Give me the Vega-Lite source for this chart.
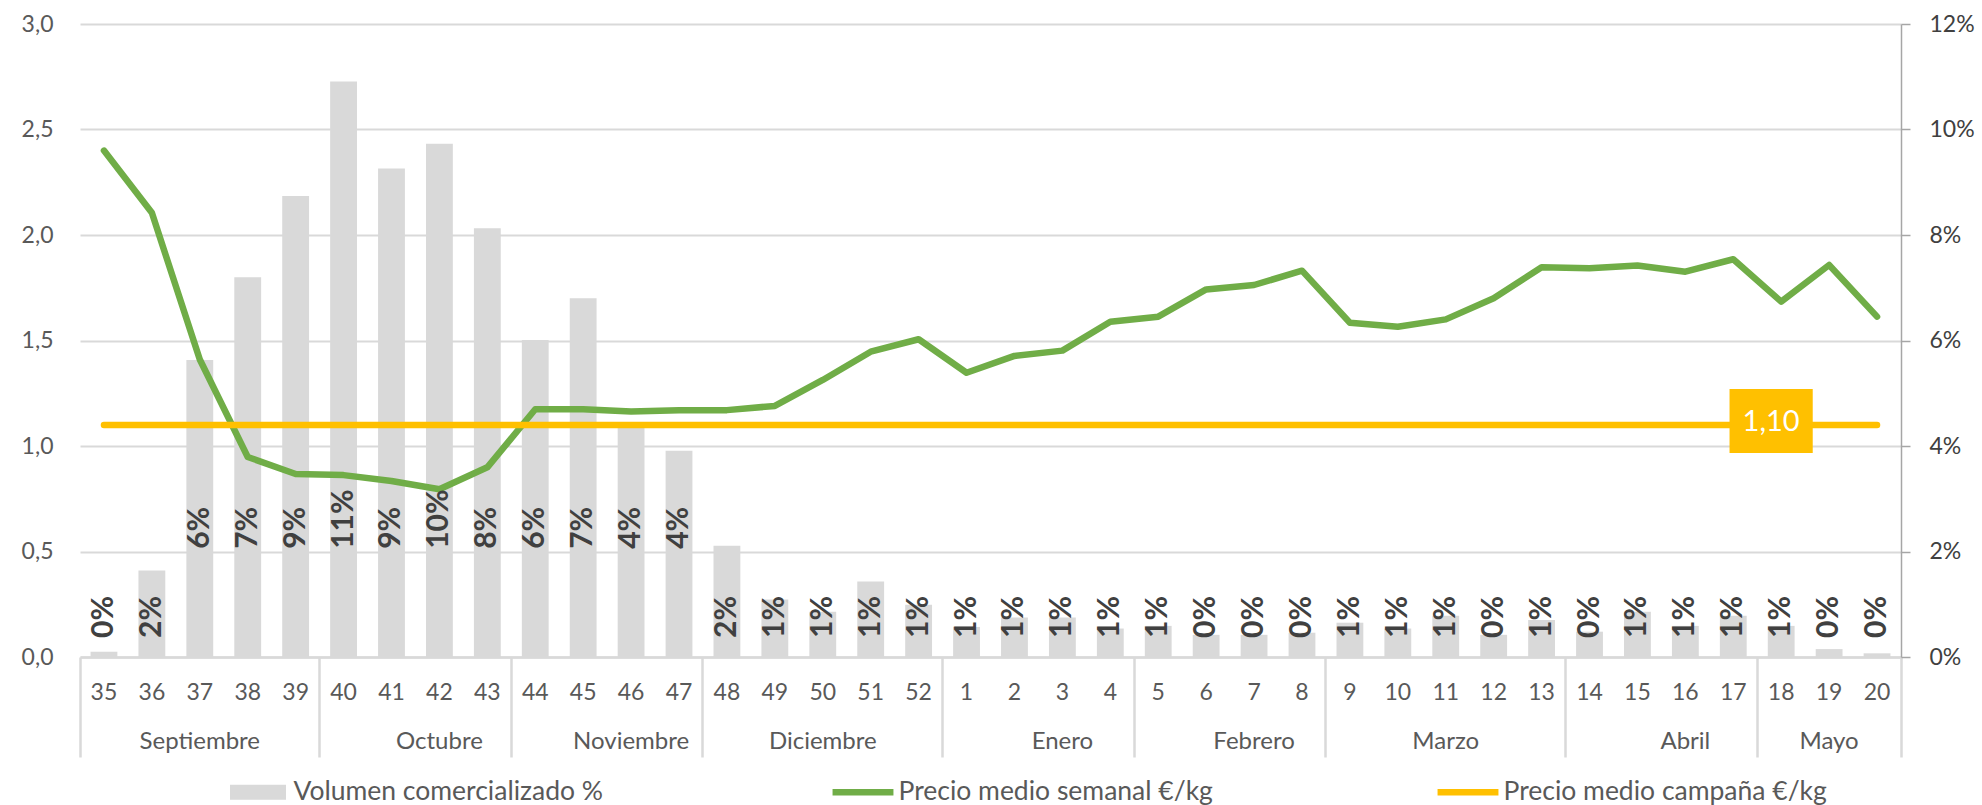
{
  "$schema": "https://vega.github.io/schema/vega-lite/v6.json",
  "width": 1821,
  "height": 633,
  "autosize": {"type": "none"},
  "padding": {"left": 80, "top": 24, "right": 81, "bottom": 148},
  "background": "white",
  "config": {
    "font": "Lato",
    "view": {"stroke": null},
    "locale": {"number": {"decimal": ",", "thousands": ".", "grouping": [3], "currency": ["", " €"]}},
    "axis": {"labelFont": "Lato", "grid": false, "domain": false, "ticks": false, "labelColor": "#595959", "labelFontSize": 23}
  },
  "data": {
    "values": [
      {"semana": 35, "vol": 0.0010, "precio": 2.400, "campana": 1.10},
      {"semana": 36, "vol": 0.0164, "precio": 2.105, "campana": 1.10},
      {"semana": 37, "vol": 0.0563, "precio": 1.410, "campana": 1.10},
      {"semana": 38, "vol": 0.0720, "precio": 0.948, "campana": 1.10},
      {"semana": 39, "vol": 0.0874, "precio": 0.867, "campana": 1.10},
      {"semana": 40, "vol": 0.1091, "precio": 0.862, "campana": 1.10},
      {"semana": 41, "vol": 0.0926, "precio": 0.834, "campana": 1.10},
      {"semana": 42, "vol": 0.0973, "precio": 0.795, "campana": 1.10},
      {"semana": 43, "vol": 0.0813, "precio": 0.899, "campana": 1.10},
      {"semana": 44, "vol": 0.0601, "precio": 1.174, "campana": 1.10},
      {"semana": 45, "vol": 0.0680, "precio": 1.174, "campana": 1.10},
      {"semana": 46, "vol": 0.0435, "precio": 1.163, "campana": 1.10},
      {"semana": 47, "vol": 0.0391, "precio": 1.170, "campana": 1.10},
      {"semana": 48, "vol": 0.0211, "precio": 1.170, "campana": 1.10},
      {"semana": 49, "vol": 0.0109, "precio": 1.190, "campana": 1.10},
      {"semana": 50, "vol": 0.0086, "precio": 1.313, "campana": 1.10},
      {"semana": 51, "vol": 0.0143, "precio": 1.447, "campana": 1.10},
      {"semana": 52, "vol": 0.0099, "precio": 1.506, "campana": 1.10},
      {"semana": 1, "vol": 0.0057, "precio": 1.347, "campana": 1.10},
      {"semana": 2, "vol": 0.0075, "precio": 1.427, "campana": 1.10},
      {"semana": 3, "vol": 0.0075, "precio": 1.452, "campana": 1.10},
      {"semana": 4, "vol": 0.0054, "precio": 1.589, "campana": 1.10},
      {"semana": 5, "vol": 0.0059, "precio": 1.613, "campana": 1.10},
      {"semana": 6, "vol": 0.0042, "precio": 1.742, "campana": 1.10},
      {"semana": 7, "vol": 0.0042, "precio": 1.763, "campana": 1.10},
      {"semana": 8, "vol": 0.0046, "precio": 1.831, "campana": 1.10},
      {"semana": 9, "vol": 0.0065, "precio": 1.584, "campana": 1.10},
      {"semana": 10, "vol": 0.0054, "precio": 1.565, "campana": 1.10},
      {"semana": 11, "vol": 0.0078, "precio": 1.600, "campana": 1.10},
      {"semana": 12, "vol": 0.0042, "precio": 1.700, "campana": 1.10},
      {"semana": 13, "vol": 0.0070, "precio": 1.847, "campana": 1.10},
      {"semana": 14, "vol": 0.0048, "precio": 1.842, "campana": 1.10},
      {"semana": 15, "vol": 0.0086, "precio": 1.855, "campana": 1.10},
      {"semana": 16, "vol": 0.0059, "precio": 1.826, "campana": 1.10},
      {"semana": 17, "vol": 0.0078, "precio": 1.885, "campana": 1.10},
      {"semana": 18, "vol": 0.0059, "precio": 1.684, "campana": 1.10},
      {"semana": 19, "vol": 0.0015, "precio": 1.858, "campana": 1.10},
      {"semana": 20, "vol": 0.0007, "precio": 1.613, "campana": 1.10}
    ]
  },
  "layer": [
    {
      "mark": {"type": "bar", "width": {"band": 0.56}},
      "encoding": {
        "x": {"field": "semana", "type": "ordinal",
          "scale": {"domain": [35,36,37,38,39,40,41,42,43,44,45,46,47,48,49,50,51,52,1,2,3,4,5,6,7,8,9,10,11,12,13,14,15,16,17,18,19,20], "paddingInner": 0, "paddingOuter": 0},
          "axis": {"orient": "bottom", "title": null, "domain": true, "domainColor": "#d9d9d9", "domainWidth": 2.5, "ticks": false, "grid": false, "labelAngle": 0, "labelPadding": 24, "labelFontSize": 23, "labelColor": "#595959", "labelOverlap": false}},
        "y": {"field": "vol", "type": "quantitative", "scale": {"domain": [0, 0.12], "nice": false},
          "axis": {"orient": "right", "title": null, "values": [0, 0.02, 0.04, 0.06, 0.08, 0.1, 0.12], "format": ".0%", "domain": true, "domainColor": "#a6a6a6", "domainWidth": 1.5, "ticks": true, "tickColor": "#a6a6a6", "tickWidth": 1.5, "tickSize": 9, "labelPadding": 19, "labelColor": "#404040", "labelFontSize": 23, "grid": false}},
        "color": {"datum": "Volumen comercializado %", "type": "nominal",
          "scale": {"domain": ["Volumen comercializado %", "Precio medio semanal €/kg", "Precio medio campaña €/kg"], "range": ["#d9d9d9", "#70ad47", "#ffc000"]},
          "legend": {"orient": "none", "legendX": 149, "legendY": 739, "direction": "horizontal", "columns": 3, "gridAlign": "all", "columnPadding": 215, "title": null, "padding": 0, "symbolSize": 3364, "symbolOffset": 0, "labelFont": "Lato", "labelFontSize": 26.5, "labelColor": "#595959", "labelOffset": 6.5, "labelLimit": 600,
            "encode": {"symbols": {"update": {
              "shape": {"signal": "datum.value === 'Volumen comercializado %' ? 'M-0.966,-0.26L0.966,-0.26L0.966,0.26L-0.966,0.26Z' : 'M-1.05,-0.11L1.05,-0.11L1.05,0.11L-1.05,0.11Z'"},
              "fill": {"signal": "datum.value === 'Volumen comercializado %' ? '#d9d9d9' : (datum.value === 'Precio medio semanal €/kg' ? '#70ad47' : '#ffc000')"},
              "stroke": {"value": "transparent"},
              "strokeWidth": {"value": 0},
              "size": {"value": 3364},
              "opacity": {"value": 1}
            }}}}}
      }
    },
    {
      "mark": {"type": "line", "strokeWidth": 6.5, "strokeCap": "round", "strokeJoin": "round"},
      "encoding": {
        "x": {"field": "semana", "type": "ordinal", "sort": [35,36,37,38,39,40,41,42,43,44,45,46,47,48,49,50,51,52,1,2,3,4,5,6,7,8,9,10,11,12,13,14,15,16,17,18,19,20],
          "scale": {"domain": [35,36,37,38,39,40,41,42,43,44,45,46,47,48,49,50,51,52,1,2,3,4,5,6,7,8,9,10,11,12,13,14,15,16,17,18,19,20], "paddingInner": 0, "paddingOuter": 0},
          "axis": {"orient": "bottom", "title": null, "values": [35,40,44,48,1,5,9,14,18], "bandPosition": 0, "labels": false, "domain": false, "grid": false, "ticks": true, "tickSize": 100, "tickColor": "#d9d9d9", "tickWidth": 2.5}},
        "y": {"field": "precio", "type": "quantitative", "scale": {"domain": [0, 3], "nice": false},
          "axis": {"orient": "left", "title": null, "values": [0, 0.5, 1, 1.5, 2, 2.5, 3], "format": ".1f", "grid": true, "gridColor": "#d9d9d9", "gridWidth": 2, "domain": false, "ticks": false, "labelPadding": 27, "labelFontSize": 23, "labelColor": "#595959"}},
        "color": {"datum": "Precio medio semanal €/kg", "type": "nominal",
          "scale": {"domain": ["Volumen comercializado %", "Precio medio semanal €/kg", "Precio medio campaña €/kg"], "range": ["#d9d9d9", "#70ad47", "#ffc000"]}}
      }
    },
    {
      "mark": {"type": "line", "strokeWidth": 6.5, "strokeCap": "round"},
      "encoding": {
        "x": {"field": "semana", "type": "ordinal", "sort": [35,36,37,38,39,40,41,42,43,44,45,46,47,48,49,50,51,52,1,2,3,4,5,6,7,8,9,10,11,12,13,14,15,16,17,18,19,20],
          "scale": {"domain": [35,36,37,38,39,40,41,42,43,44,45,46,47,48,49,50,51,52,1,2,3,4,5,6,7,8,9,10,11,12,13,14,15,16,17,18,19,20], "paddingInner": 0, "paddingOuter": 0},
          "axis": {"orient": "bottom", "title": null, "values": [20], "bandPosition": 1, "labels": false, "domain": false, "grid": false, "ticks": true, "tickSize": 100, "tickColor": "#d9d9d9", "tickWidth": 2.5}},
        "y": {"field": "campana", "type": "quantitative", "scale": {"domain": [0, 3], "nice": false}, "axis": null},
        "color": {"datum": "Precio medio campaña €/kg", "type": "nominal",
          "scale": {"domain": ["Volumen comercializado %", "Precio medio semanal €/kg", "Precio medio campaña €/kg"], "range": ["#d9d9d9", "#70ad47", "#ffc000"]}}
      }
    },
    {
      "transform": [{"filter": "datum.vol < 0.03"}],
      "mark": {"type": "text", "angle": 270, "align": "left", "baseline": "middle", "font": "Lato", "fontWeight": "bold", "fontSize": 30, "fill": "#404040"},
      "encoding": {
        "x": {"field": "semana", "type": "ordinal",
          "scale": {"domain": [35,36,37,38,39,40,41,42,43,44,45,46,47,48,49,50,51,52,1,2,3,4,5,6,7,8,9,10,11,12,13,14,15,16,17,18,19,20], "paddingInner": 0, "paddingOuter": 0},
          "axis": {"orient": "bottom", "title": null, "values": [37, 50, 11, 19], "bandPosition": 0.5, "labels": true, "labelAngle": 0, "labelPadding": 72, "labelFontSize": 24, "labelColor": "#595959", "labelOverlap": false, "domain": false, "grid": false, "ticks": false,
            "labelExpr": "datum.value == 37 ? 'Septiembre' : datum.value == 50 ? 'Diciembre' : datum.value == 11 ? 'Marzo' : 'Mayo'"}},
        "y": {"datum": 0.0036, "type": "quantitative", "scale": {"domain": [0, 0.12], "nice": false}, "axis": null},
        "text": {"field": "vol", "type": "quantitative", "format": ".0%"}
      }
    },
    {
      "transform": [{"filter": "datum.vol >= 0.03"}],
      "mark": {"type": "text", "angle": 270, "align": "left", "baseline": "middle", "font": "Lato", "fontWeight": "bold", "fontSize": 30, "fill": "#404040"},
      "encoding": {
        "x": {"field": "semana", "type": "ordinal",
          "scale": {"domain": [35,36,37,38,39,40,41,42,43,44,45,46,47,48,49,50,51,52,1,2,3,4,5,6,7,8,9,10,11,12,13,14,15,16,17,18,19,20], "paddingInner": 0, "paddingOuter": 0},
          "axis": {"orient": "bottom", "title": null, "values": [42, 46, 3, 7, 16], "bandPosition": 0, "labels": true, "labelAngle": 0, "labelPadding": 72, "labelFontSize": 24, "labelColor": "#595959", "labelOverlap": false, "domain": false, "grid": false, "ticks": false,
            "labelExpr": "datum.value == 42 ? 'Octubre' : datum.value == 46 ? 'Noviembre' : datum.value == 3 ? 'Enero' : datum.value == 7 ? 'Febrero' : 'Abril'"}},
        "y": {"datum": 0.0205, "type": "quantitative", "scale": {"domain": [0, 0.12], "nice": false}, "axis": null},
        "text": {"field": "vol", "type": "quantitative", "format": ".0%"}
      }
    },
    {
      "transform": [{"filter": "datum.semana == 18"}],
      "mark": {"type": "point", "filled": true, "opacity": 1, "shape": "M-1.3,-1.125L1.3,-1.125L1.3,0.875L-1.3,0.875Z", "size": 4096, "color": "#ffc000", "strokeWidth": 0},
      "encoding": {
        "x": {"field": "semana", "type": "ordinal", "bandPosition": 0.29,
          "scale": {"domain": [35,36,37,38,39,40,41,42,43,44,45,46,47,48,49,50,51,52,1,2,3,4,5,6,7,8,9,10,11,12,13,14,15,16,17,18,19,20], "paddingInner": 0, "paddingOuter": 0},
          "axis": null},
        "y": {"field": "campana", "type": "quantitative", "scale": {"domain": [0, 3], "nice": false}, "axis": null}
      }
    },
    {
      "transform": [{"filter": "datum.semana == 18"}],
      "mark": {"type": "text", "align": "center", "baseline": "middle", "dy": -3, "font": "Lato", "fontSize": 29, "fill": "#ffffff"},
      "encoding": {
        "x": {"field": "semana", "type": "ordinal", "bandPosition": 0.29,
          "scale": {"domain": [35,36,37,38,39,40,41,42,43,44,45,46,47,48,49,50,51,52,1,2,3,4,5,6,7,8,9,10,11,12,13,14,15,16,17,18,19,20], "paddingInner": 0, "paddingOuter": 0},
          "axis": null},
        "y": {"field": "campana", "type": "quantitative", "scale": {"domain": [0, 3], "nice": false}, "axis": null},
        "text": {"field": "campana", "type": "quantitative", "format": ".2f"}
      }
    }
  ],
  "resolve": {"scale": {"y": "independent"}, "axis": {"x": "independent", "y": "independent"}}
}
